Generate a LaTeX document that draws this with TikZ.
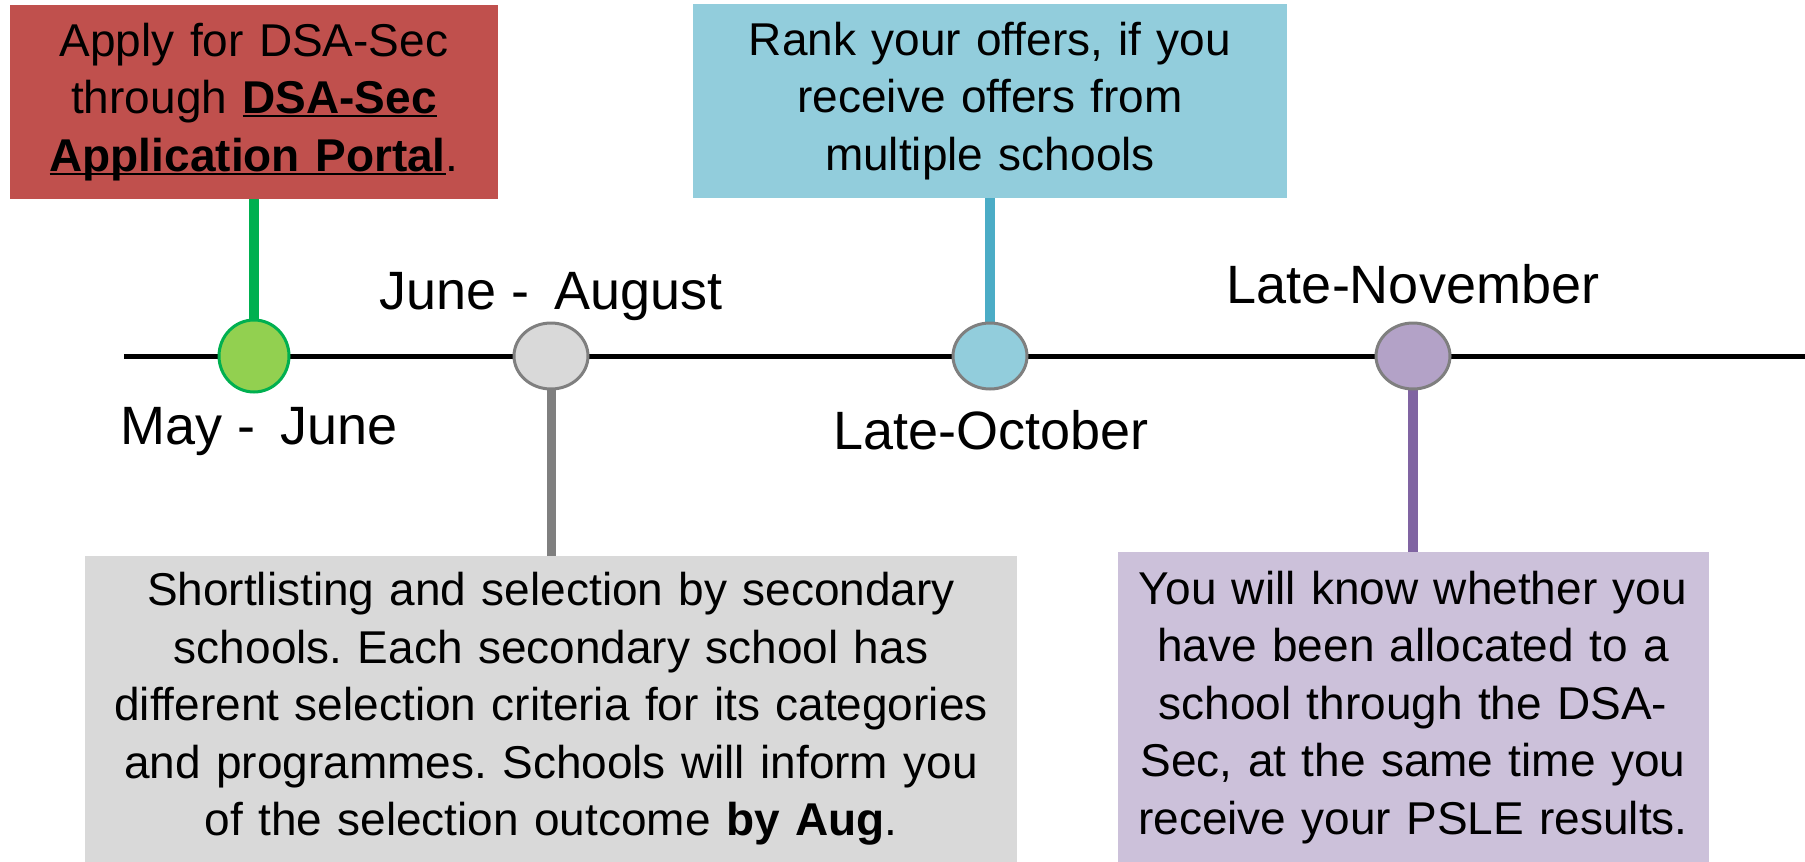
\documentclass[tikz,border=0pt]{standalone}
\usepackage{fontspec}
\setmainfont{Liberation Sans}
\usepackage{tikz}
\usetikzlibrary{shapes.geometric}
\frenchspacing
\newsavebox{\portalbox}
\newcommand{\portallink}[1]{\leavevmode\sbox{\portalbox}{\textbf{#1}}%
  \rlap{\rule[-3.5pt]{\wd\portalbox}{2pt}}\usebox{\portalbox}}
\definecolor{applyred}{HTML}{C0504D}
\definecolor{rankblue}{HTML}{92CDDC}
\definecolor{rankstem}{HTML}{4BACC6}
\definecolor{boxgray}{HTML}{D9D9D9}
\definecolor{stemgray}{HTML}{7F7F7F}
\definecolor{boxpurple}{HTML}{CCC1DA}
\definecolor{dotpurple}{HTML}{B3A2C7}
\definecolor{stempurple}{HTML}{8064A2}
\definecolor{dotgreen}{HTML}{92D050}
\definecolor{stemgreen}{HTML}{00B050}
\tikzstyle{time line}=[draw=black,line width=5]
\tikzstyle{stem}=[line width=10]
\tikzstyle{event dot}=[ellipse,draw=stemgray,line width=3,inner sep=0,
                       minimum width=74,minimum height=66]
\tikzstyle{info box}=[inner sep=0,align=center,font=\fontsize{46}{57.5}\selectfont]
\tikzstyle{date label}=[anchor=base,font=\fontsize{54}{60}\selectfont]

\begin{document}
\begin{tikzpicture}[x=1pt,y=-1pt]

  \useasboundingbox (0,0) rectangle (1805,862);

  % EVENTS ON THE LINE
  \coordinate (may) at (254,356);
  \coordinate (aug) at (551,356);
  \coordinate (oct) at (990,356);
  \coordinate (nov) at (1413,356);
  \coordinate (line start) at (124,356);
  \coordinate (line end) at (1805,356);

  % BOXES
  \node[info box,fill=applyred,text width=488,minimum height=194] (apply) at (254,102)
    {Apply for DSA-Sec\\ through \portallink{DSA-Sec}\\ \portallink{Application Portal}.};
  \node[info box,fill=rankblue,text width=594,minimum height=194] (rank) at (990,101)
    {Rank your offers, if you\\ receive offers from\\ multiple schools};
  \node[info box,fill=boxgray,text width=932,minimum height=306,anchor=north] (shortlist) at (551,556)
    {Shortlisting and selection by secondary\\ schools. Each secondary school has\\
     different selection criteria for its categories\\ and programmes. Schools will inform you\\
     of the selection outcome \textbf{by Aug}.};
  \node[info box,fill=boxpurple,text width=591,minimum height=310,anchor=north] (allocated) at (1413,552)
    {You will know whether you\\ have been allocated to a\\ school through the DSA-\\
     Sec, at the same time you\\ receive your PSLE results.};

  % STEMS AND TIME LINE
  \draw[time line] (line start) -- (line end);
  \draw[stem,stemgreen] (apply.south) -- (may);
  \draw[stem,rankstem] (rank.south) -- (oct);
  \draw[stem,stemgray,line width=9] (aug) -- (shortlist.north);
  \draw[stem,stempurple] (nov) -- (allocated.north);

  % DOTS
  \node[event dot,draw=stemgreen,fill=dotgreen,minimum width=70,minimum height=72] (maydot) at (may) {};
  \node[event dot,fill=boxgray] (augdot) at (aug) {};
  \node[event dot,fill=rankblue] (octdot) at (oct) {};
  \node[event dot,fill=dotpurple] (novdot) at (nov) {};

  % LABELS
  \node[date label] (maylbl) at (259,444) {May -\hspace{10pt} June};
  \node[date label] (auglbl) at (551,309) {June -\hspace{10pt} August};
  \node[date label] (octlbl) at (991,449) {Late-October};
  \node[date label] (novlbl) at (1413,303) {Late-November};

\end{tikzpicture}
\end{document}
